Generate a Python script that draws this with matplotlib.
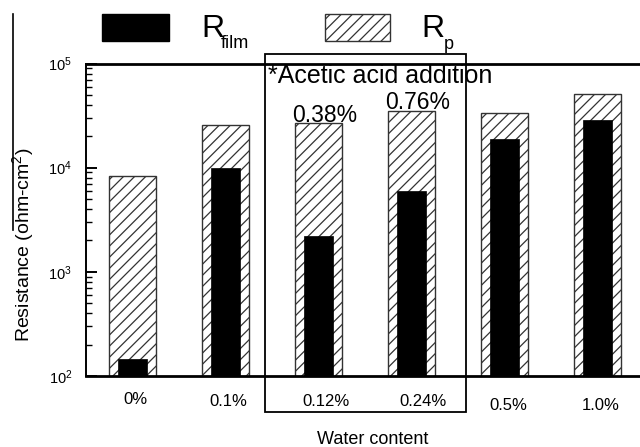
import numpy as np
import matplotlib
matplotlib.use("Agg")
import matplotlib.pyplot as plt
import matplotlib.patches as patches
from matplotlib.lines import Line2D
from matplotlib.ticker import FixedLocator, FixedFormatter, LogLocator, NullFormatter

plt.rcParams['font.family'] = ['Liberation Sans', 'DejaVu Sans']
plt.rcParams['mathtext.fontset'] = 'custom'
plt.rcParams['mathtext.rm'] = 'Liberation Sans'
plt.rcParams['hatch.linewidth'] = 0.9

# data
water_content = ['0%', '0.1%', '0.12%', '0.24%', '0.5%', '1.0%']
r_film = [137, 10000, 2180, 5970, 18700, 28700]
r_p = [8400, 25500, 26700, 35200, 33700, 51000]
acid_labels = ['0.38%', '0.76%']

W, H = 640, 447

def fx(px):
    return px / W

def fy(py):
    return 1 - py / H

fig = plt.figure(figsize=(6.4, 4.47), dpi=100)
ax = fig.add_axes([fx(86), fy(376), fx(644) - fx(86), fy(63.5) - fy(376)])

x = np.arange(len(water_content))
ax.bar(x, r_p, width=0.5, bottom=10, color='white', edgecolor='#333333',
       hatch='///', linewidth=1.0, zorder=2)
ax.bar(x, r_film, width=0.31, bottom=10, color='black', edgecolor='black',
       linewidth=0.5, zorder=3)

ax.set_yscale('log')
ax.set_ylim(100, 1e5)
ax.set_xlim(-0.5, 5.5)

ax.yaxis.set_major_locator(FixedLocator([1e2, 1e3, 1e4, 1e5]))
ax.yaxis.set_major_formatter(FixedFormatter([r'$\mathregular{10^{%d}}$' % k for k in range(2, 6)]))
ax.yaxis.set_minor_locator(LogLocator(base=10, subs=np.arange(2, 10)))
ax.yaxis.set_minor_formatter(NullFormatter())
ax.tick_params(axis='y', which='major', direction='in', length=8, width=1.4,
               labelsize=10.5, pad=10)
ax.tick_params(axis='y', which='minor', direction='in', length=4.5, width=1.0)
ax.set_xticks([])

ax.spines['right'].set_visible(False)
ax.spines['top'].set_linewidth(2)
ax.spines['bottom'].set_linewidth(2)
ax.spines['left'].set_linewidth(1.4)

# category labels, drawn as loose text like the original
label_px = [135, 228, 326, 423, 508, 601]
label_py = [399, 402, 402, 401, 405, 406]
for lab, px, py in zip(water_content, label_px, label_py):
    fig.text(fx(px), fy(py), lab, ha='center', va='center', fontsize=12)

fig.text(fx(373), fy(440), 'Water content', ha='center', va='center', fontsize=13)
fig.text(fx(24), fy(245), 'Resistance (ohm-cm$^\\mathregular{2}$)', rotation=90,
         ha='center', va='center', fontsize=14)

# stray line left of the y label
fig.add_artist(Line2D([fx(13), fx(13)], [fy(14), fy(230)], color='black', lw=1.2))

# acetic acid box
fig.add_artist(patches.Rectangle((fx(265), fy(412)), fx(466) - fx(265), fy(54) - fy(412),
                                 transform=fig.transFigure, fill=False,
                                 edgecolor='black', linewidth=1.3, zorder=5))
fig.text(fx(268), fy(83), '*Acetic acid addition', ha='left', va='baseline', fontsize=18)
fig.text(fx(292), fy(122), acid_labels[0], ha='left', va='baseline', fontsize=16.5)
fig.text(fx(385), fy(109), acid_labels[1], ha='left', va='baseline', fontsize=16.5)

# legend
fig.add_artist(patches.Rectangle((fx(102), fy(41)), fx(169) - fx(102), fy(14) - fy(41),
                                 transform=fig.transFigure, facecolor='black',
                                 edgecolor='black', linewidth=1))
fig.add_artist(patches.Rectangle((fx(325), fy(41)), fx(390) - fx(325), fy(14) - fy(41),
                                 transform=fig.transFigure, facecolor='white',
                                 edgecolor='#333333', hatch='///', linewidth=1))
fig.text(fx(201), fy(37), 'R', ha='left', va='baseline', fontsize=23)
fig.text(fx(221), fy(48), 'film', ha='left', va='baseline', fontsize=13)
fig.text(fx(421), fy(37), 'R', ha='left', va='baseline', fontsize=23)
fig.text(fx(444), fy(49), 'p', ha='left', va='baseline', fontsize=13)

fig.savefig('out.png', dpi=100)
